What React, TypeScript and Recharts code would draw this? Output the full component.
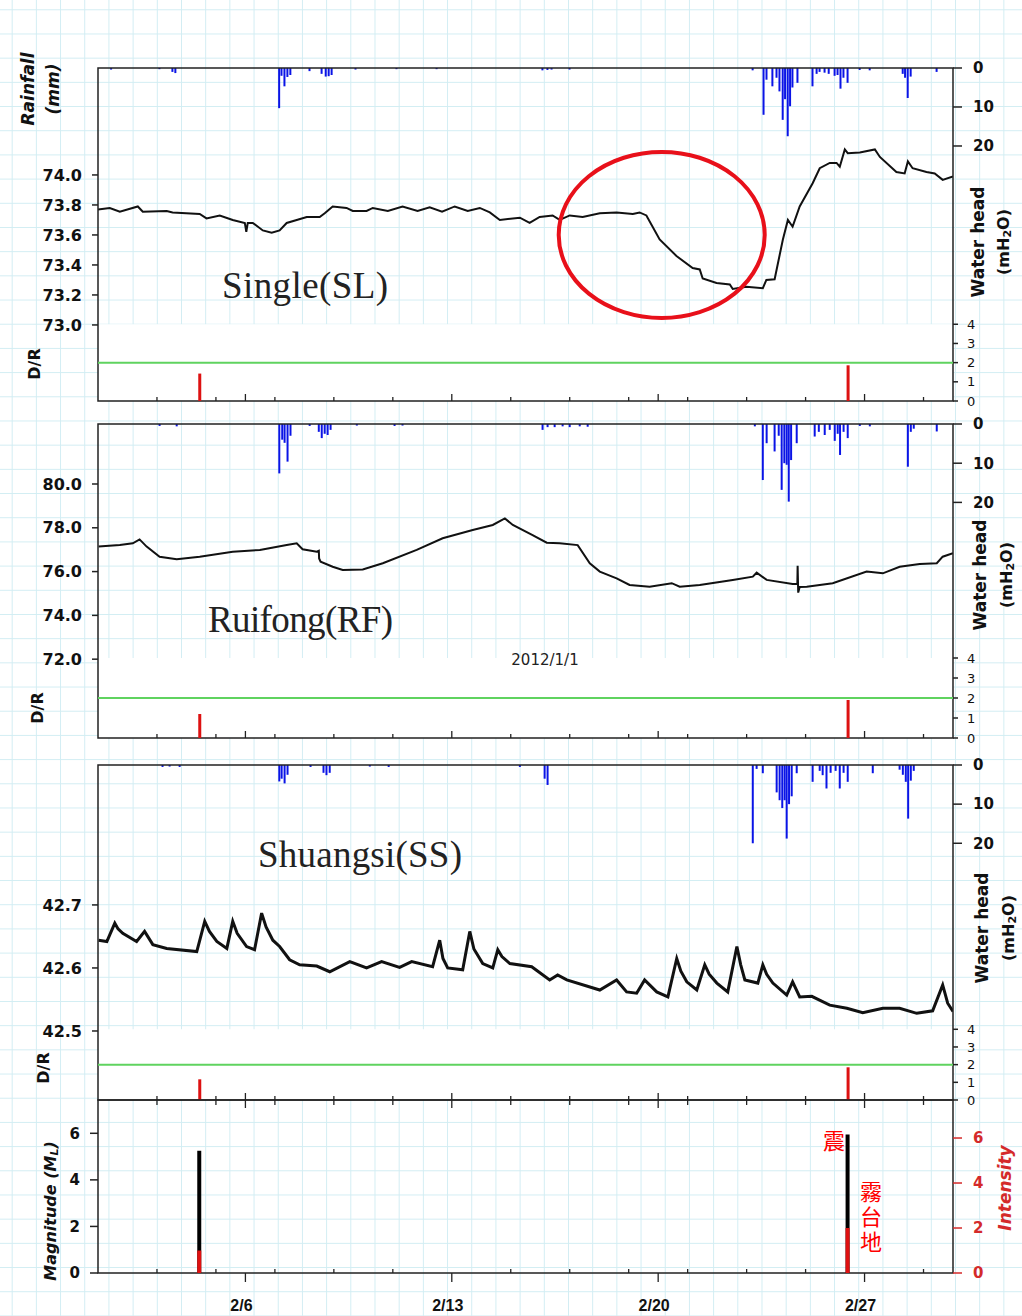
import React from 'react';
import {
  ComposedChart,
  Line,
  Bar,
  XAxis,
  YAxis,
  ReferenceArea,
  ReferenceLine,
  ReferenceDot,
} from 'recharts';

const W = 1022;
const H = 1316;
const PLOT_LEFT = 98;
const PLOT_RIGHT = 953;
const INK = '#222';
const RED = '#d42a2a';

// time axis: day of February 2012 (1 = 2/1 00:00, 30 = 3/1 00:00)
const dayDomain: [number, number] = [1, 30];
const minorTickDays = [3, 5, 7, 9, 11, 15, 17, 19, 21, 23, 25, 29];
const majorTickDays = [6, 13, 20, 27];
const majorTickLabels = ['2/6', '2/13', '2/20', '2/27'];
const allTickDays = [...minorTickDays, ...majorTickDays].sort((a, b) => a - b);

// earthquakes
const quakeDays = [4.44, 26.43];
const quakeMagnitude = [5.25, 5.95];
const quakeIntensity = [1, 2];

// D/R at each quake, per station
const slDR = [1.43, 1.86];
const rfDR = [1.2, 1.9];
const ssDR = [1.17, 1.85];
const drThreshold = 2;

// Single (SL) water head
const slTime = [1.0, 1.4, 1.74, 2.35, 2.52, 3.33, 3.53, 4.45, 4.68, 5.13, 5.57, 5.98, 6.03, 6.08, 6.25, 6.59, 6.89, 7.16, 7.4, 7.74, 8.08, 8.52, 8.69, 8.96, 9.43, 9.64, 10.11, 10.32, 10.83, 11.33, 11.84, 12.25, 12.67, 13.1, 13.54, 13.95, 14.29, 14.63, 15.31, 15.64, 15.98, 16.42, 16.66, 17.0, 17.44, 18.02, 18.59, 19.14, 19.37, 19.6, 20.05, 20.62, 21.17, 21.41, 21.51, 21.98, 22.43, 22.53, 22.99, 23.55, 23.67, 23.95, 24.23, 24.4, 24.56, 24.8, 25.24, 25.48, 25.82, 26.05, 26.16, 26.33, 26.43, 26.84, 27.35, 27.52, 28.08, 28.36, 28.47, 28.63, 29.1, 29.38, 29.65, 30.0];
const slHead = [73.77, 73.78, 73.755, 73.79, 73.755, 73.76, 73.75, 73.74, 73.71, 73.73, 73.7, 73.68, 73.62, 73.68, 73.68, 73.63, 73.615, 73.63, 73.68, 73.7, 73.72, 73.72, 73.745, 73.79, 73.78, 73.76, 73.76, 73.78, 73.76, 73.79, 73.76, 73.785, 73.755, 73.79, 73.76, 73.78, 73.75, 73.7, 73.715, 73.68, 73.72, 73.73, 73.7, 73.73, 73.72, 73.745, 73.75, 73.74, 73.75, 73.73, 73.57, 73.46, 73.38, 73.37, 73.31, 73.28, 73.27, 73.24, 73.255, 73.245, 73.3, 73.305, 73.57, 73.7, 73.655, 73.79, 73.945, 74.045, 74.08, 74.08, 74.055, 74.17, 74.145, 74.15, 74.17, 74.12, 74.02, 74.01, 74.09, 74.045, 74.02, 74.01, 73.967, 73.99];

// Ruifong (RF) water head
const rfTime = [1.02, 1.74, 2.18, 2.41, 2.65, 3.09, 3.67, 4.45, 5.57, 6.49, 7.4, 7.74, 7.94, 8.42, 8.49, 8.5, 8.55, 8.96, 9.3, 9.98, 10.66, 11.81, 12.69, 13.71, 14.39, 14.8, 15.07, 15.74, 16.22, 16.66, 17.27, 17.68, 18.02, 18.59, 19.03, 19.71, 20.46, 20.73, 21.41, 22.53, 23.21, 23.34, 23.68, 24.56, 24.72, 24.73, 24.75, 24.8, 25.04, 25.92, 27.07, 27.62, 28.19, 28.87, 29.45, 29.65, 30.0];
const rfHead = [77.14, 77.21, 77.29, 77.47, 77.14, 76.68, 76.56, 76.68, 76.91, 76.99, 77.21, 77.29, 77.02, 76.91, 76.95, 76.6, 76.45, 76.22, 76.07, 76.1, 76.38, 76.99, 77.52, 77.9, 78.13, 78.43, 78.13, 77.67, 77.32, 77.29, 77.21, 76.38, 76.0, 75.69, 75.39, 75.31, 75.47, 75.31, 75.39, 75.62, 75.77, 75.95, 75.62, 75.43, 75.43, 76.26, 75.04, 75.3, 75.31, 75.47, 76.0, 75.92, 76.22, 76.35, 76.38, 76.68, 76.84];

// Shuangsi (SS) water head
const ssTime = [1.02, 1.3, 1.57, 1.68, 1.84, 2.31, 2.58, 2.86, 3.33, 4.35, 4.62, 4.78, 5.03, 5.37, 5.57, 5.72, 6.04, 6.31, 6.55, 6.7, 6.93, 7.16, 7.5, 7.84, 8.42, 8.86, 9.54, 10.11, 10.62, 11.23, 11.64, 12.35, 12.59, 12.7, 12.86, 13.37, 13.61, 13.75, 14.05, 14.39, 14.56, 14.7, 14.97, 15.71, 16.32, 16.59, 16.9, 18.02, 18.59, 18.93, 19.27, 19.54, 19.95, 20.33, 20.63, 20.77, 20.97, 21.31, 21.58, 21.73, 21.99, 22.36, 22.67, 22.8, 22.94, 23.38, 23.55, 23.68, 23.89, 24.36, 24.56, 24.8, 25.21, 25.82, 26.4, 26.94, 27.62, 28.19, 28.77, 29.31, 29.65, 29.82, 30.0];
const ssHead = [42.644, 42.642, 42.671, 42.662, 42.655, 42.642, 42.658, 42.637, 42.631, 42.626, 42.674, 42.658, 42.642, 42.631, 42.674, 42.655, 42.634, 42.629, 42.687, 42.665, 42.644, 42.634, 42.613, 42.605, 42.603, 42.594, 42.61, 42.6, 42.61, 42.601, 42.61, 42.602, 42.644, 42.615, 42.6, 42.597, 42.658, 42.63, 42.607, 42.6, 42.629, 42.618, 42.607, 42.602, 42.581, 42.589, 42.581, 42.565, 42.581, 42.562, 42.56, 42.581, 42.562, 42.554, 42.615, 42.595, 42.578, 42.565, 42.605, 42.59, 42.576, 42.562, 42.634, 42.605, 42.581, 42.576, 42.605, 42.59, 42.576, 42.557, 42.578, 42.554, 42.555, 42.541, 42.536, 42.529, 42.536, 42.536, 42.528, 42.532, 42.573, 42.544, 42.531];

// hourly rainfall (mm)
const slRainDays = [1.45, 3.09, 3.53, 3.63, 7.15, 7.23, 7.33, 7.43, 7.53, 8.18, 8.59, 8.73, 8.83, 8.93, 9.74, 11.13, 12.49, 16.08, 16.25, 16.39, 17.0, 23.21, 23.58, 23.68, 23.88, 24.02, 24.12, 24.23, 24.31, 24.4, 24.48, 24.56, 24.73, 25.24, 25.38, 25.48, 25.65, 25.79, 25.99, 26.09, 26.19, 26.29, 26.43, 26.84, 27.18, 28.3, 28.38, 28.47, 28.57, 29.45];
const slRain = [0.4, 0.3, 1.0, 1.3, 10.3, 2.0, 4.7, 2.3, 1.8, 0.8, 1.5, 2.2, 2.1, 1.8, 0.4, 0.3, 0.3, 0.6, 0.5, 0.4, 0.4, 0.6, 12.0, 3.0, 4.7, 2.5, 6.0, 13.3, 8.0, 17.5, 9.8, 5.0, 3.8, 4.7, 1.5, 1.0, 1.2, 1.5, 2.0, 1.8, 5.3, 2.5, 3.8, 0.5, 0.6, 1.5, 2.5, 7.7, 2.2, 1.0];
const rfRainDays = [3.09, 3.67, 7.15, 7.25, 7.33, 7.43, 7.53, 8.18, 8.49, 8.59, 8.69, 8.79, 8.89, 9.78, 11.06, 11.33, 16.08, 16.25, 16.49, 16.76, 17.0, 17.34, 17.61, 23.28, 23.55, 23.68, 23.95, 24.09, 24.19, 24.28, 24.36, 24.43, 24.51, 24.7, 25.31, 25.45, 25.65, 25.82, 25.99, 26.09, 26.17, 26.29, 26.43, 26.84, 27.18, 28.47, 28.57, 28.67, 29.45];
const rfRain = [0.5, 0.6, 12.6, 4.0, 4.8, 9.6, 3.0, 0.5, 2.0, 3.6, 2.5, 2.8, 1.5, 0.4, 0.5, 0.4, 1.5, 0.8, 0.8, 0.6, 0.8, 0.6, 0.7, 0.6, 14.3, 4.9, 7.0, 3.0, 16.8, 10.0, 10.4, 19.8, 9.2, 4.9, 3.2, 2.0, 2.8, 1.5, 4.3, 2.5, 7.9, 2.0, 3.6, 0.5, 0.6, 10.9, 2.0, 1.2, 1.9];
const ssRainDays = [3.19, 3.43, 3.77, 7.15, 7.23, 7.33, 7.43, 8.21, 8.65, 8.75, 8.86, 10.22, 10.86, 15.31, 16.15, 16.25, 23.21, 23.34, 23.55, 24.02, 24.12, 24.21, 24.29, 24.36, 24.44, 24.53, 24.7, 25.24, 25.48, 25.58, 25.71, 25.85, 26.02, 26.16, 26.29, 26.43, 27.28, 28.19, 28.3, 28.4, 28.48, 28.57, 28.67];
const ssRain = [0.5, 0.4, 0.5, 4.2, 3.5, 4.7, 2.5, 0.5, 2.0, 2.6, 2.0, 0.4, 0.5, 0.5, 3.5, 5.1, 20.0, 1.0, 2.1, 7.0, 9.0, 11.0, 9.0, 18.8, 10.0, 8.0, 2.1, 4.3, 1.5, 2.6, 6.0, 2.0, 1.5, 6.0, 2.0, 4.3, 2.1, 1.2, 2.5, 4.3, 13.7, 4.0, 1.5];

// axis ticks
const headTicksSL = [73.0, 73.2, 73.4, 73.6, 73.8, 74.0];
const headTicksRF = [72, 74, 76, 78, 80];
const headTicksSS = [42.5, 42.6, 42.7];
const rainTicks = [0, 10, 20];
const drTicks = [0, 1, 2, 3, 4];
const quakeTicks = [0, 2, 4, 6];

// annotation circle on the SL drop
const circleDay = 20.12;
const circleHead = 73.6;

const toRows = (ts: number[], vs: number[], key: string) =>
  ts.map((t, i) => ({ t, [key]: vs[i] }));

type Panel = {
  top: number;
  bottom: number;
  head: any[];
  rain: any[];
  dr: any[];
  headDomain: [number, number];
  headTicks: number[];
  rainMax: number;
  drMax: number;
  lineWidth: number;
  circle?: boolean;
};

const panels: Panel[] = [
  {
    top: 68, bottom: 401,
    head: toRows(slTime, slHead, 'v'),
    rain: toRows(slRainDays, slRain, 'mm'),
    dr: toRows(quakeDays, slDR, 'dr'),
    headDomain: [72.493, 74.713], headTicks: headTicksSL,
    rainMax: 85.4, drMax: 17.36, lineWidth: 2, circle: true,
  },
  {
    top: 424, bottom: 738,
    head: toRows(rfTime, rfHead, 'v'),
    rain: toRows(rfRainDays, rfRain, 'mm'),
    dr: toRows(quakeDays, rfDR, 'dr'),
    headDomain: [68.4, 82.74], headTicks: headTicksRF,
    rainMax: 80.1, drMax: 15.7, lineWidth: 2,
  },
  {
    top: 765, bottom: 1100,
    head: toRows(ssTime, ssHead, 'v'),
    rain: toRows(ssRainDays, ssRain, 'mm'),
    dr: toRows(quakeDays, ssDR, 'dr'),
    headDomain: [42.3905, 42.922], headTicks: headTicksSS,
    rainMax: 85.6, drMax: 18.95, lineWidth: 3,
  },
];

// margins for a full-page layer; every visible axis is 1px thick
const mg = (top: number, bottom: number, axes: { l?: boolean; r?: boolean; b?: boolean; t?: boolean } = {}) => ({
  top: top - (axes.t ? 1 : 0),
  bottom: H - bottom - (axes.b ? 1 : 0),
  left: PLOT_LEFT - (axes.l ? 1 : 0),
  right: W - PLOT_RIGHT - (axes.r ? 1 : 0),
});

const boldTick = { fontFamily: 'DejaVu Sans', fontWeight: 700, fill: '#111' };
const tickLineStyle = { stroke: INK, strokeWidth: 1.5 };
const isMajor = (v: number) => majorTickDays.includes(v);

// ticks pointing up from the bottom edge of a station panel
const innerBottomTick = (props: any) => {
  const { x, y, payload } = props;
  const len = isMajor(payload.value) ? 7 : 4;
  return <line x1={x} x2={x} y1={y} y2={y - len} stroke={INK} strokeWidth={1.3} />;
};

// ticks pointing down from the top edge of the quake panel
const innerTopTick = (props: any) => {
  const { x, y, payload } = props;
  const len = isMajor(payload.value) ? 8 : 5;
  return <line x1={x} x2={x} y1={y} y2={y + len} stroke={INK} strokeWidth={1.3} />;
};

// date axis under the quake panel
const dateTick = (props: any) => {
  const { x, y, payload } = props;
  const i = majorTickDays.indexOf(payload.value);
  if (i < 0) {
    return <line x1={x} x2={x} y1={y} y2={y - 4} stroke={INK} strokeWidth={1.3} />;
  }
  return (
    <g>
      <line x1={x} x2={x} y1={y} y2={y + 9} stroke={INK} strokeWidth={1.3} />
      <text
        x={x - 4}
        y={y + 32}
        textAnchor="middle"
        dominantBaseline="central"
        fontFamily="Liberation Sans"
        fontWeight={700}
        fontSize={16}
        fill="#111"
      >
        {majorTickLabels[i]}
      </text>
    </g>
  );
};

const Layer = ({ children }: { children: React.ReactNode }) => (
  <div style={{ position: 'absolute', left: 0, top: 0 }}>{children}</div>
);

function StationPanel({ p }: { p: Panel }) {
  return (
    <>
      {/* water head */}
      <Layer>
        <ComposedChart width={W} height={H} data={p.head} margin={mg(p.top, p.bottom, { l: true, b: true })}>
          <XAxis
            dataKey="t" type="number" domain={dayDomain} allowDataOverflow
            ticks={allTickDays} interval={0} height={1}
            axisLine={false} tickLine={false} tickSize={0} tickMargin={0}
            tick={innerBottomTick}
          />
          <YAxis
            yAxisId="wh" domain={p.headDomain} allowDataOverflow
            ticks={p.headTicks} interval={0} width={1} axisLine={false}
            tickSize={6} tickMargin={10} tickLine={tickLineStyle}
            tick={{ ...boldTick, fontSize: 16 }}
            tickFormatter={(v: number) => v.toFixed(1)}
          />
          <YAxis yAxisId="dr" hide width={0} orientation="right" domain={[0, p.drMax]} allowDataOverflow />
          <ReferenceArea yAxisId="dr" x1={1} x2={30} y1={0} y2={4} fill="#fff" fillOpacity={1} stroke="none" />
          <Line
            yAxisId="wh" dataKey="v" type="linear" stroke="#111"
            strokeWidth={p.lineWidth} dot={false} activeDot={false}
            isAnimationActive={false}
          />
          {p.circle && (
            <ReferenceDot
              yAxisId="wh" x={circleDay} y={circleHead} r={1}
              shape={(s: any) => (
                <ellipse cx={s.cx} cy={s.cy} rx={103} ry={83} fill="none" stroke="#e8101a" strokeWidth={4} />
              )}
            />
          )}
        </ComposedChart>
      </Layer>

      {/* rainfall, hanging from the top */}
      <Layer>
        <ComposedChart width={W} height={H} data={p.rain} margin={mg(p.top, p.bottom, { r: true })}>
          <XAxis dataKey="t" type="number" domain={dayDomain} allowDataOverflow hide />
          <YAxis
            yAxisId="rain" orientation="right" reversed domain={[0, p.rainMax]}
            allowDataOverflow ticks={rainTicks} interval={0} width={1}
            axisLine={false} tickSize={9} tickMargin={11} tickLine={tickLineStyle}
            tick={{ ...boldTick, fontSize: 15 }}
          />
          <Bar yAxisId="rain" dataKey="mm" fill="#0a14e6" barSize={2} isAnimationActive={false} />
        </ComposedChart>
      </Layer>

      {/* D/R strip and frame */}
      <Layer>
        <ComposedChart width={W} height={H} data={p.dr} margin={mg(p.top, p.bottom, { r: true })}>
          <XAxis dataKey="t" type="number" domain={dayDomain} allowDataOverflow hide />
          <YAxis
            yAxisId="dr" orientation="right" domain={[0, p.drMax]} allowDataOverflow
            ticks={drTicks} interval={0} width={1} axisLine={false}
            tickSize={5} tickMargin={9} tickLine={tickLineStyle}
            tick={{ fontFamily: 'DejaVu Sans', fontSize: 13, fill: '#111' }}
          />
          <ReferenceLine yAxisId="dr" y={drThreshold} stroke="#5fd35f" strokeWidth={2} />
          <Bar yAxisId="dr" dataKey="dr" fill="#dd1111" barSize={3} isAnimationActive={false} />
          <ReferenceArea
            yAxisId="dr" x1={1} x2={30} y1={0} y2={p.drMax}
            fill="none" stroke={INK} strokeWidth={1.5}
          />
        </ComposedChart>
      </Layer>
    </>
  );
}

function QuakePanel() {
  const magMax = 7.43;
  const intMax = 7.69;
  return (
    <>
      <Layer>
        <ComposedChart
          width={W} height={H}
          data={toRows(quakeDays, quakeMagnitude, 'm')}
          margin={mg(1100, 1273, { l: true, b: true, t: true })}
        >
          <XAxis
            dataKey="t" type="number" domain={dayDomain} allowDataOverflow
            ticks={allTickDays} interval={0} height={1}
            axisLine={false} tickLine={false} tickSize={0} tickMargin={0}
            tick={dateTick}
          />
          <XAxis
            xAxisId="top" orientation="top" dataKey="t" type="number"
            domain={dayDomain} allowDataOverflow ticks={allTickDays} interval={0}
            height={1} axisLine={false} tickLine={false} tickSize={0} tickMargin={0}
            tick={innerTopTick}
          />
          <YAxis
            yAxisId="mag" domain={[0, magMax]} allowDataOverflow ticks={quakeTicks}
            interval={0} width={1} axisLine={false} tickSize={8} tickMargin={10}
            tickLine={tickLineStyle} tick={{ ...boldTick, fontSize: 15 }}
          />
          <Bar yAxisId="mag" dataKey="m" fill="#000" barSize={4} isAnimationActive={false} />
          <ReferenceArea
            yAxisId="mag" x1={1} x2={30} y1={0} y2={magMax}
            fill="none" stroke={INK} strokeWidth={1.5}
          />
        </ComposedChart>
      </Layer>
      <Layer>
        <ComposedChart
          width={W} height={H}
          data={toRows(quakeDays, quakeIntensity, 'i')}
          margin={mg(1100, 1273, { r: true })}
        >
          <XAxis dataKey="t" type="number" domain={dayDomain} allowDataOverflow hide />
          <YAxis
            yAxisId="int" orientation="right" domain={[0, intMax]} allowDataOverflow
            ticks={quakeTicks} interval={0} width={1} axisLine={false}
            tickSize={9} tickMargin={11} tickLine={{ stroke: RED, strokeWidth: 1.5 }}
            tick={{ ...boldTick, fontSize: 15, fill: RED }}
          />
          <Bar yAxisId="int" dataKey="i" fill="#e01010" barSize={4} isAnimationActive={false} />
        </ComposedChart>
      </Layer>
    </>
  );
}

const VText = ({ x, y, children, ...rest }: any) => (
  <text
    x={x}
    y={y}
    transform={`rotate(-90 ${x} ${y})`}
    textAnchor="middle"
    dominantBaseline="central"
    fontFamily="DejaVu Sans"
    fontWeight={700}
    {...rest}
  >
    {children}
  </text>
);

function Annotations() {
  const heads = [
    { x: 978, sub: 1003, y: 242 },
    { x: 980, sub: 1006, y: 575 },
    { x: 982, sub: 1008, y: 928 },
  ];
  const drLabels = [
    { x: 34, y: 364 },
    { x: 37, y: 708 },
    { x: 43, y: 1068 },
  ];
  const serif = { fontFamily: 'Liberation Serif', fontSize: 37, fill: '#222' };
  const cjk = { fontFamily: 'Noto Sans CJK TC', fontSize: 22, fill: '#ff0000' };
  return (
    <svg width={W} height={H} style={{ position: 'absolute', left: 0, top: 0 }}>
      <VText x={28} y={89} fontSize={17} fontStyle="italic" fill="#111">Rainfall</VText>
      <VText x={53} y={89} fontSize={17} fontStyle="italic" fill="#111">(mm)</VText>

      {drLabels.map((d, i) => (
        <VText key={i} x={d.x} y={d.y} fontSize={16} fill="#111">D/R</VText>
      ))}

      {heads.map((h, i) => (
        <g key={i}>
          <VText x={h.x} y={h.y} fontSize={17} fill="#111">Water head</VText>
          <VText x={h.sub} y={h.y} fontSize={16} fill="#111">
            <tspan>(mH</tspan>
            <tspan fontSize={11} dy={4}>2</tspan>
            <tspan dy={-4}>O)</tspan>
          </VText>
        </g>
      ))}

      <VText x={50} y={1211} fontSize={16} fontStyle="italic" fill="#111">
        <tspan>Magnitude (M</tspan>
        <tspan fontSize={11} dy={4}>L</tspan>
        <tspan dy={-4}>)</tspan>
      </VText>
      <VText x={1005} y={1188} fontSize={17} fontStyle="italic" fill={RED}>Intensity</VText>

      <text x={222} y={298} textLength={166} lengthAdjust="spacing" {...serif}>Single(SL)</text>
      <text x={208} y={632} textLength={185} lengthAdjust="spacing" {...serif}>Ruifong(RF)</text>
      <text x={258} y={867} textLength={204} lengthAdjust="spacing" {...serif}>Shuangsi(SS)</text>

      <text x={545} y={660} textAnchor="middle" dominantBaseline="central" fontFamily="DejaVu Sans" fontSize={15} fill="#222">
        2012/1/1
      </text>

      <text x={834} y={1139} textAnchor="middle" dominantBaseline="central" {...cjk}>震</text>
      <text x={871} y={1181} style={{ writingMode: 'vertical-rl' }} letterSpacing={3} {...cjk}>霧台地</text>
    </svg>
  );
}

export default function App() {
  return (
    <div
      style={{
        position: 'absolute',
        left: 0,
        top: 0,
        width: W,
        height: H,
        overflow: 'hidden',
        backgroundColor: '#fff',
        backgroundImage:
          'linear-gradient(to right, #d2edf3 1px, transparent 1px), linear-gradient(to bottom, #d2edf3 1px, transparent 1px)',
        backgroundSize: '24.2px 24.2px',
        backgroundPosition: '11.7px 9.3px',
      }}
    >
      {panels.map((p, i) => (
        <StationPanel key={i} p={p} />
      ))}
      <QuakePanel />
      <Annotations />
    </div>
  );
}
